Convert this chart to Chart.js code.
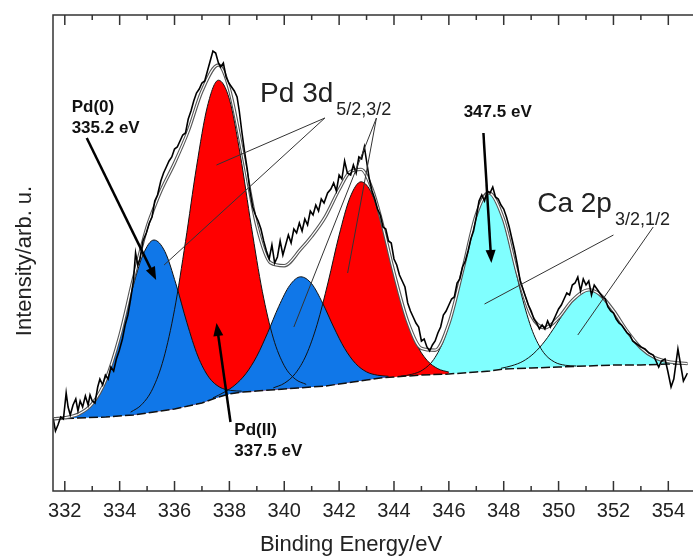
<!DOCTYPE html>
<html>
<head>
<meta charset="utf-8">
<script src="https://cdn.jsdelivr.net/npm/chart.js@4.4.1/dist/chart.umd.min.js"></script>
<style>
  html, body { margin: 0; padding: 0; background: #fff; overflow: hidden; }
</style>
</head>
<body>
<canvas id="xps" width="693" height="557"></canvas>
<script>
const xTickLabels = [332, 334, 336, 338, 340, 342, 344, 346, 348, 350, 352, 354];

// Espectro medido (línea negra con ruido)
const specE = [331.58, 331.66, 331.75, 331.85, 331.95, 332.05, 332.12, 332.2, 332.3, 332.4, 332.48, 332.56, 332.65, 332.75, 332.85, 332.92, 333.0, 333.1, 333.2, 333.28, 333.38, 333.48, 333.58, 333.68, 333.78, 333.88, 333.98, 334.1, 334.2, 334.3, 334.4, 334.5, 334.58, 334.66, 334.74, 334.85, 334.97, 335.08, 335.18, 335.28, 335.38, 335.5, 335.6, 335.7, 335.8, 335.9, 336.0, 336.1, 336.2, 336.3, 336.4, 336.5, 336.6, 336.7, 336.8, 336.9, 337.0, 337.1, 337.2, 337.3, 337.4, 337.5, 337.6, 337.68, 337.78, 337.88, 337.98, 338.08, 338.18, 338.28, 338.36, 338.45, 338.55, 338.65, 338.75, 338.85, 338.95, 339.05, 339.15, 339.25, 339.35, 339.45, 339.55, 339.65, 339.75, 339.85, 339.95, 340.05, 340.15, 340.25, 340.35, 340.45, 340.55, 340.65, 340.75, 340.85, 340.95, 341.05, 341.15, 341.25, 341.35, 341.45, 341.58, 341.7, 341.8, 341.9, 342.0, 342.1, 342.2, 342.3, 342.42, 342.52, 342.62, 342.72, 342.82, 342.92, 343.0, 343.1, 343.2, 343.3, 343.4, 343.5, 343.6, 343.7, 343.8, 343.9, 344.0, 344.1, 344.2, 344.3, 344.4, 344.5, 344.6, 344.7, 344.8, 344.9, 345.0, 345.1, 345.2, 345.3, 345.4, 345.5, 345.6, 345.7, 345.8, 345.9, 346.0, 346.1, 346.2, 346.3, 346.4, 346.5, 346.6, 346.7, 346.8, 346.9, 347.0, 347.1, 347.2, 347.3, 347.4, 347.5, 347.6, 347.7, 347.8, 347.9, 348.0, 348.1, 348.2, 348.3, 348.4, 348.5, 348.6, 348.7, 348.8, 348.9, 349.0, 349.1, 349.2, 349.3, 349.4, 349.5, 349.6, 349.7, 349.8, 349.9, 350.0, 350.1, 350.2, 350.3, 350.4, 350.5, 350.6, 350.7, 350.8, 350.9, 351.0, 351.1, 351.2, 351.3, 351.4, 351.5, 351.6, 351.7, 351.8, 351.9, 352.0, 352.1, 352.2, 352.3, 352.4, 352.5, 352.6, 352.7, 352.8, 352.9, 353.0, 353.15, 353.3, 353.45, 353.55, 353.65, 353.75, 353.88, 353.98, 354.1, 354.2, 354.35, 354.45, 354.55, 354.7];
const specI = [72, 60, 66, 74, 72, 98, 84, 76, 86, 92, 80, 90, 84, 95, 86, 96, 90, 88, 104, 112, 106, 116, 112, 124, 120, 132, 140, 152, 166, 176, 192, 210, 238, 226, 232, 250, 258, 268, 274, 290, 296, 310, 318, 324, 330, 334, 342, 344, 350, 356, 358, 372, 380, 390, 398, 402, 408, 410, 420, 430, 440, 438, 428, 424, 428, 414, 408, 404, 400, 394, 380, 360, 340, 322, 300, 284, 276, 270, 262, 250, 240, 232, 246, 228, 234, 250, 236, 246, 256, 248, 262, 258, 268, 260, 272, 266, 280, 276, 286, 280, 292, 288, 298, 302, 308, 300, 316, 312, 330, 318, 316, 326, 318, 334, 332, 344, 330, 312, 300, 292, 282, 276, 264, 262, 250, 248, 232, 226, 216, 210, 204, 188, 180, 174, 168, 164, 150, 152, 144, 140, 146, 150, 158, 164, 176, 180, 186, 192, 194, 208, 212, 224, 230, 240, 252, 260, 274, 290, 296, 290, 300, 298, 304, 294, 292, 286, 282, 274, 264, 252, 240, 226, 210, 202, 194, 186, 180, 172, 168, 162, 166, 162, 170, 164, 170, 176, 182, 186, 192, 198, 196, 206, 208, 214, 200, 212, 206, 210, 196, 206, 202, 198, 194, 192, 184, 180, 178, 172, 168, 166, 162, 158, 156, 150, 148, 146, 144, 142, 138, 136, 130, 124, 130, 132, 120, 104, 112, 142, 126, 110, 118];

// Envolvente del ajuste
const envE = [331.6, 332.0, 332.5, 333.0, 333.5, 334.0, 334.5, 335.0, 335.25, 335.5, 336.0, 336.5, 337.0, 337.6, 338.0, 338.5, 339.0, 339.5, 340.0, 340.6, 341.0, 341.5, 342.0, 342.4, 342.8, 343.2, 343.5, 344.0, 344.5, 345.0, 345.5, 346.0, 346.5, 347.0, 347.45, 348.0, 348.5, 349.0, 349.5, 350.0, 350.5, 351.1, 351.5, 352.0, 352.5, 353.0, 353.5, 354.0, 354.7];
const envI = [72.2, 73.3, 76.9, 87.2, 111.4, 154.6, 212, 264, 283, 300, 328, 360, 400, 426, 402, 336, 265.4, 228.2, 225.3, 241.8, 254.7, 274.4, 301.5, 319.2, 321.6, 302.1, 274.8, 218.3, 169.5, 142.6, 140.8, 167.5, 220.4, 276.2, 298.2, 271.1, 217.3, 175.7, 163.2, 173.3, 190.6, 201.1, 196.6, 180.4, 159.8, 143.1, 133.5, 129.4, 127.4];

// Fondo (Shirley)
const bgE = [331.57, 332.5, 333.5, 334.5, 335.0, 335.5, 336.0, 336.5, 337.0, 337.5, 338.0, 338.5, 339.0, 339.5, 340.0, 340.5, 341.0, 341.5, 342.0, 342.5, 343.0, 343.5, 344.0, 344.5, 345.0, 346.0, 347.0, 347.5, 348.0, 349.0, 350.0, 351.0, 352.0, 353.0, 354.0, 354.71];
const bgI = [72, 73, 74, 76, 78, 80, 82, 85, 88, 93, 97, 99, 100, 101, 102, 103, 104, 105, 107, 109, 111, 113, 114, 115, 116, 117, 119, 120, 122, 123, 124, 125, 126, 126, 127, 127];

// Componentes: Pd(0) 3d5/2 y 3d3/2 (azul)
const pd0aE = [332.05, 332.45, 332.85, 333.25, 333.65, 334.05, 334.45, 334.85, 335.25, 335.65, 336.05, 336.45, 336.85, 337.25, 337.65, 338.05, 338.45];
const pd0aI = [73.5, 76.4, 83, 97.1, 122.1, 158.8, 200.8, 236.2, 251, 239.4, 207.2, 168.4, 134.9, 113.8, 103.8, 100.6, 99.8];
const pd0bE = [337.4, 337.8, 338.2, 338.6, 339.0, 339.4, 339.8, 340.2, 340.6, 341.0, 341.4, 341.8, 342.2, 342.6, 343.0, 343.4, 343.8];
const pd0bI = [93.1, 98.6, 105.9, 117.3, 134.8, 158.6, 184.6, 205.6, 214.2, 207.2, 187.8, 164, 142.6, 127.5, 119.1, 115.8, 114.7];

// Componentes: Pd(II) 3d5/2 y 3d3/2 (rojo)
const pd2aE = [334.4, 334.8, 335.2, 335.6, 336.0, 336.4, 336.8, 337.2, 337.6, 338.0, 338.4, 338.8, 339.2, 339.6, 340.0, 340.4, 340.8];
const pd2aI = [78.8, 86.3, 102.1, 132.1, 181.3, 249.4, 323.9, 384.8, 410.8, 391.8, 335.7, 264.6, 199.7, 152.9, 125.3, 111.9, 106.6];
const pd2bE = [339.6, 340.0, 340.4, 340.8, 341.2, 341.6, 342.0, 342.4, 342.8, 343.2, 343.6, 344.0, 344.4, 344.8, 345.2, 345.6, 346.0];
const pd2bI = [103.1, 107.7, 117.4, 136, 166.7, 209, 255.9, 293.7, 309.2, 296.9, 262.1, 217.6, 177.1, 148, 130.8, 122.3, 118.9];

// Componentes: Ca 2p3/2 y 2p1/2 (cian)
const ca32E = [344.25, 344.65, 345.05, 345.45, 345.85, 346.25, 346.65, 347.05, 347.45, 347.85, 348.25, 348.65, 349.05, 349.45, 349.85, 350.25, 350.65];
const ca32I = [114.8, 116.7, 121.1, 131.6, 153.6, 190.7, 238.2, 280.4, 297.9, 282.7, 242.2, 195.9, 159.7, 138.6, 129, 125.7, 125];
const ca12E = [347.9, 348.3, 348.7, 349.1, 349.5, 349.9, 350.3, 350.7, 351.1, 351.5, 351.9, 352.3, 352.7, 353.1, 353.5, 353.9, 354.3];
const ca12I = [122.7, 125.3, 129.7, 137.7, 149.9, 165.8, 182.6, 195.8, 201.1, 196.6, 184.2, 167.9, 152.4, 140.7, 133.5, 129.9, 128.1];

// --- Colores y fuentes ---
const AZUL = '#1077e8';
const ROJO = '#ff0000';
const CIAN = '#80ffff';
const FUENTE = '"Liberation Sans", Arial, sans-serif';

const pares = (es, is) => es.map((e, i) => ({ x: e, y: is[i] }));

// --- Anotaciones (en coordenadas de datos: [E, I]) ---
const lineasGuia = [
  [341.48, 373, 337.53, 326],
  [341.48, 373, 335.62, 226],
  [343.36, 373, 342.31, 218],
  [343.36, 373, 340.35, 164],
  [352.0, 256, 347.30, 187],
  [353.45, 264, 350.70, 156]
];
const flechas = [
  [332.80, 353, 335.33, 211],
  [338.04, 69, 337.53, 168],
  [347.26, 358, 347.55, 228]
];
const textosNegrita = [
  ['Pd(0)', 332.25, 379],
  ['335.2 eV', 332.25, 358],
  ['Pd(II)', 338.18, 56],
  ['337.5 eV', 338.18, 35],
  ['347.5 eV', 346.54, 374]
];
const textosSub = [
  ['Pd 3d', '5/2,3/2', 339.12, 389],
  ['Ca 2p', '3/2,1/2', 349.22, 279]
];

function dibujarFlecha(ctx, x1, y1, x2, y2) {
  const ang = Math.atan2(y2 - y1, x2 - x1);
  const L = 13, W = 5;
  const c = Math.cos(ang), s = Math.sin(ang);
  ctx.lineWidth = 2.5;
  ctx.beginPath();
  ctx.moveTo(x1, y1);
  ctx.lineTo(x2 - L * 0.8 * c, y2 - L * 0.8 * s);
  ctx.stroke();
  ctx.beginPath();
  ctx.moveTo(x2, y2);
  ctx.lineTo(x2 - L * c + W * s, y2 - L * s - W * c);
  ctx.lineTo(x2 - L * c - W * s, y2 - L * s + W * c);
  ctx.closePath();
  ctx.fill();
}

// Marco, marcas hacia dentro y títulos de ejes
const marco = {
  id: 'marco',
  afterDraw(chart) {
    const { ctx, chartArea: a, scales: { x } } = chart;
    ctx.save();
    ctx.strokeStyle = '#333';
    ctx.lineWidth = 1.5;
    ctx.beginPath();
    ctx.moveTo(chart.width, a.top);
    ctx.lineTo(a.left, a.top);
    ctx.lineTo(a.left, a.bottom);
    ctx.lineTo(chart.width, a.bottom);
    ctx.stroke();
    ctx.beginPath();
    x.ticks.forEach(t => {
      const p = x.getPixelForValue(t.value);
      const len = t.value % 2 === 0 ? 10 : 5;
      ctx.moveTo(p, a.bottom);
      ctx.lineTo(p, a.bottom - len);
      ctx.moveTo(p, a.top);
      ctx.lineTo(p, a.top + len);
    });
    ctx.stroke();

    ctx.fillStyle = '#222';
    ctx.font = '22px ' + FUENTE;
    ctx.textAlign = 'center';
    ctx.textBaseline = 'alphabetic';
    ctx.fillText('Binding Energy/eV', 351, 551);
    ctx.translate(31, 261);
    ctx.rotate(-Math.PI / 2);
    ctx.fillText('Intensity/arb. u.', 0, 0);
    ctx.restore();
  }
};

// Flechas, líneas guía y etiquetas de los picos
const anotaciones = {
  id: 'anotaciones',
  afterDatasetsDraw(chart) {
    const { ctx, scales: { x, y } } = chart;
    const px = e => x.getPixelForValue(e);
    const py = v => y.getPixelForValue(v);
    ctx.save();
    ctx.strokeStyle = '#333';
    ctx.lineWidth = 1;
    lineasGuia.forEach(([e1, i1, e2, i2]) => {
      ctx.beginPath();
      ctx.moveTo(px(e1), py(i1));
      ctx.lineTo(px(e2), py(i2));
      ctx.stroke();
    });
    ctx.strokeStyle = '#000';
    ctx.fillStyle = '#000';
    flechas.forEach(([e1, i1, e2, i2]) => dibujarFlecha(ctx, px(e1), py(i1), px(e2), py(i2)));

    ctx.fillStyle = '#111';
    ctx.textAlign = 'left';
    ctx.textBaseline = 'alphabetic';
    ctx.font = 'bold 17px ' + FUENTE;
    textosNegrita.forEach(([t, e, i]) => ctx.fillText(t, px(e), py(i)));

    ctx.fillStyle = '#222';
    textosSub.forEach(([t, sub, e, i]) => {
      ctx.font = '28px ' + FUENTE;
      ctx.fillText(t, px(e), py(i));
      const w = ctx.measureText(t).width;
      ctx.font = '18px ' + FUENTE;
      ctx.fillText(sub, px(e) + w + 3, py(i) + 13);
    });
    ctx.restore();
  }
};

const pico = (es, is, color) => ({
  data: pares(es, is),
  backgroundColor: color,
  borderColor: '#111',
  borderWidth: 1,
  fill: 3,
  cubicInterpolationMode: 'monotone',
  pointRadius: 0
});

new Chart(document.getElementById('xps'), {
  type: 'line',
  data: {
    datasets: [
      { data: pares(specE, specI), borderColor: '#000', borderWidth: 1.6, fill: false, pointRadius: 0, tension: 0 },
      { data: pares(envE, envI), borderColor: '#fff', borderWidth: 1.2, fill: false, pointRadius: 0, cubicInterpolationMode: 'monotone' },
      { data: pares(envE, envI), borderColor: '#555', borderWidth: 3.4, fill: false, pointRadius: 0, cubicInterpolationMode: 'monotone' },
      { data: pares(bgE, bgI), borderColor: '#111', borderWidth: 1.5, borderDash: [9, 3], fill: false, pointRadius: 0, tension: 0 },
      pico(pd0aE, pd0aI, AZUL),
      pico(pd0bE, pd0bI, AZUL),
      pico(pd2aE, pd2aI, ROJO),
      pico(pd2bE, pd2bI, ROJO),
      pico(ca32E, ca32I, CIAN),
      pico(ca12E, ca12I, CIAN)
    ]
  },
  options: {
    responsive: false,
    animation: false,
    devicePixelRatio: 1,
    layout: { padding: { top: 15, right: 0, left: 0, bottom: 0 } },
    plugins: {
      legend: { display: false },
      tooltip: { enabled: false },
      filler: { drawTime: 'beforeDatasetsDraw' }
    },
    scales: {
      x: {
        type: 'linear',
        min: 331.57,
        max: 354.71,
        grid: { display: false, drawTicks: false },
        border: { display: false },
        ticks: {
          stepSize: 1,
          includeBounds: false,
          autoSkip: false,
          maxRotation: 0,
          padding: 8,
          color: '#222',
          font: { family: FUENTE, size: 20 },
          callback: v => xTickLabels.includes(v) ? String(v) : ''
        },
        afterFit: s => { s.height = 66; }
      },
      y: {
        min: 0,
        max: 476,
        grid: { display: false, drawTicks: false },
        border: { display: false },
        ticks: { display: false },
        afterFit: s => { s.width = 53; }
      }
    }
  },
  plugins: [marco, anotaciones]
});
</script>
</body>
</html>
